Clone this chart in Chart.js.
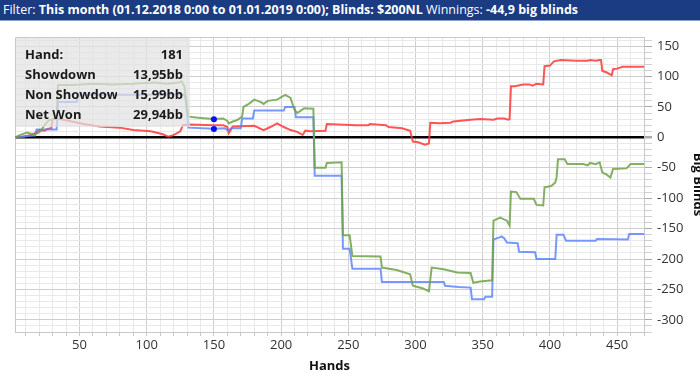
<!DOCTYPE html>
<html lang="en">
<head>
<meta charset="UTF-8">
<title>Winnings graph</title>
<style>
  html, body { margin: 0; padding: 0; background: #fff; width: 700px; height: 379px; overflow: hidden; }
  #filterBar {
    height: 20px; background: #1b3b83; border-bottom: 1px solid #8aa0cc;
    color: #fff; font-family: "Open Sans", sans-serif; font-size: 12px; line-height: 20px;
    white-space: nowrap; padding-left: 3px; overflow: hidden;
  }
  #filterText { display: inline-block; transform-origin: left center; }
  #filterText b { font-weight: bold; }
  #chartBox { width: 712px; height: 358px; }
</style>
<script src="https://cdn.jsdelivr.net/npm/chart.js@4.4.1/dist/chart.umd.min.js"></script>
</head>
<body>
<div id="filterBar"><span id="filterText">Filter: <b>This month (01.12.2018 0:00 to 01.01.2019 0:00); Blinds: $200NL</b> Winnings: <b>-44,9 big blinds</b></span></div>
<div id="chartBox"><canvas id="graph" width="712" height="358"></canvas></div>
<script>
// Net Won (green)
const netWonHands = [2,6,11,15,18,21,24,27,31,33,34,45,60,75,90,105,115,124,126,128,131,140,150,157,160,161,164,167,171,172,176,180,185,187,190,197,203,207,210,212,216,217,224,225,233,234,245,246,251,253,274,275,286,296,298,305,310,312,321,331,341,343,348,357,358,363,368,370,371,375,378,388,390,395,396,401,404,405,406,411,413,425,428,430,434,437,439,442,445,447,457,460,470];
const netWonValues = [0,4,8,5,6,10,20,28,30,31,86,86,88,87,88,90,88,90,92,84,34,32,30,31,27,23,26,28,34,50,55,62,58,55,60,62,70,65,45,40,46,48,47,-50,-50,-42,-41,-161,-161,-195,-196,-214,-218,-225,-244,-248,-253,-214,-217,-222,-223,-239,-237,-235,-137,-132,-137,-145,-89,-90,-101,-101,-111,-112,-82,-80,-74,-65,-36,-36,-44,-44,-46,-42,-44,-41,-58,-61,-66,-52,-51,-44,-44];

// Showdown (blue)
const showdownHands = [2,10,17,18,33,34,48,49,90,126,128,129,131,150,158,160,161,163,170,171,179,180,202,203,210,211,224,225,245,246,251,253,274,275,321,322,332,341,342,351,352,357,358,363,364,366,368,376,377,389,390,404,405,410,412,434,435,458,459,470];
const showdownValues = [0,2,3,13,13,58,58,70,70,71,70,62,16,14,15,12,12,15,15,31,31,44,44,50,50,33,33,-63,-63,-183,-183,-216,-216,-238,-238,-244,-246,-247,-266,-266,-262,-262,-168,-164,-163,-166,-173,-174,-188,-189,-200,-200,-160,-160,-170,-170,-167,-168,-159,-159];

// Non Showdown (red)
const nonShowdownHands = [2,8,14,18,20,24,26,29,30,33,40,53,65,80,90,103,112,116,119,122,125,127,131,150,157,160,161,162,164,180,187,192,197,202,207,212,216,218,222,233,234,256,265,266,278,280,290,296,298,302,307,310,311,318,326,328,341,348,358,361,366,369,370,371,374,380,385,387,390,395,396,400,403,408,420,428,430,434,437,438,439,442,446,447,450,454,470];
const nonShowdownValues = [0,1,4,8,12,11,14,15,30,31,28,22,18,16,12,10,5,1,3,6,10,20,21,20,20,17,7,10,18,19,12,17,23,17,12,9,4,11,10,11,22,20,20,22,20,17,15,11,-7,-8,-12,-10,24,23,24,26,29,30,29,31,31,29,30,84,84,87,87,85,88,87,117,118,125,127,126,126,127,126,127,127,109,107,102,112,113,116,116];

// hover markers
const markerHands = [150, 150];
const markerValues = [29.94, 13.95];

// info box
const infoLabels = ['Hand:', 'Showdown', 'Non Showdown', 'Net Won'];
const infoValues = ['181', '13,95bb', '15,99bb', '29,94bb'];

// squeeze filter text to its width in the original
const ft = document.getElementById('filterText');
ft.style.transform = 'scaleX(' + (575 / ft.getBoundingClientRect().width) + ')';

function toPoints(xs, ys) {
  return xs.map((x, i) => ({ x: x, y: ys[i] }));
}

const FONT = '"Open Sans", "Noto Sans", sans-serif';

const frame = {
  id: 'frame',
  beforeDatasetsDraw(chart) {
    const a = chart.chartArea, ctx = chart.ctx;
    ctx.save();
    ctx.strokeStyle = '#c8c8c8';
    ctx.lineWidth = 1;
    ctx.beginPath();
    ctx.moveTo(a.left + 0.5, a.bottom);
    ctx.lineTo(a.left + 0.5, a.top + 0.5);
    ctx.lineTo(a.right, a.top + 0.5);
    ctx.stroke();
    ctx.restore();
  }
};

const infoBox = {
  id: 'infoBox',
  afterDatasetsDraw(chart) {
    const a = chart.chartArea, ctx = chart.ctx;
    ctx.save();
    ctx.fillStyle = 'rgba(226,226,226,0.72)';
    ctx.fillRect(a.left + 1, a.top + 1, 174, 89);
    ctx.font = 'bold 13px ' + FONT;
    ctx.fillStyle = '#1a1a1a';
    ctx.textBaseline = 'middle';
    infoLabels.forEach((lab, i) => {
      const y = a.top + 18 + i * 20;
      ctx.save();
      ctx.beginPath();
      ctx.rect(a.left, a.top, 102, 90);
      ctx.clip();
      ctx.textAlign = 'left';
      ctx.fillText(lab, a.left + 10, y);
      ctx.restore();
      ctx.textAlign = 'right';
      ctx.fillText(infoValues[i], a.left + 168, y);
    });
    ctx.restore();
  }
};

new Chart(document.getElementById('graph'), {
  type: 'line',
  data: {
    datasets: [
      {
        label: 'marker', data: toPoints(markerHands, markerValues), showLine: false,
        pointRadius: 3, pointBackgroundColor: '#0010ff', pointBorderWidth: 0
      },
      {
        label: 'Net Won', data: toPoints(netWonHands, netWonValues),
        borderColor: 'rgba(112,162,72,0.85)', borderWidth: 2, pointRadius: 0, tension: 0
      },
      {
        label: 'Showdown', data: toPoints(showdownHands, showdownValues),
        borderColor: 'rgba(85,128,255,0.8)', borderWidth: 2, pointRadius: 0, tension: 0
      },
      {
        label: 'Non Showdown', data: toPoints(nonShowdownHands, nonShowdownValues),
        borderColor: 'rgba(255,55,55,0.85)', borderWidth: 2, pointRadius: 0, tension: 0
      }
    ]
  },
  options: {
    responsive: false,
    animation: false,
    layout: { padding: { left: 15, top: 16, right: 0, bottom: 0 } },
    plugins: { legend: { display: false }, tooltip: { enabled: false } },
    scales: {
      x: {
        type: 'linear', min: 2, max: 470,
        afterFit: s => { s.height = 47; },
        ticks: {
          stepSize: 10, includeBounds: false, autoSkip: false, maxRotation: 0, padding: 1,
          color: '#333', font: { family: FONT, size: 13 },
          callback: v => (v % 50 === 0 ? v : '')
        },
        grid: {
          color: c => (c.tick && c.tick.value % 50 === 0 ? '#cfcfcf' : '#e9e9e9'),
          tickLength: 4, tickColor: '#c8c8c8'
        },
        border: { color: '#c8c8c8' },
        title: {
          display: true, text: 'Hands', color: '#111',
          font: { family: FONT, size: 13, weight: 'bold' }, padding: { top: 0, bottom: 5 }
        }
      },
      y: {
        position: 'right', min: -320, max: 165,
        afterFit: s => { s.width = 68; },
        ticks: {
          stepSize: 10, includeBounds: false, autoSkip: false, padding: 5,
          color: '#333', font: { family: FONT, size: 13 },
          callback: v => (v % 50 === 0 ? v : '')
        },
        grid: {
          color: c => (c.tick && c.tick.value === 0 ? '#000' : (c.tick && c.tick.value % 50 === 0 ? '#cfcfcf' : '#e9e9e9')),
          lineWidth: c => (c.tick && c.tick.value === 0 ? 2.5 : 1),
          tickLength: 8,
          tickColor: c => (c.tick && c.tick.value % 50 === 0 ? '#aaa' : '#d0d0d0')
        },
        border: { color: '#c8c8c8' },
        title: {
          display: true, text: 'Big Blinds', color: '#111',
          font: { family: FONT, size: 13, weight: 'bold' }, padding: { top: 6, bottom: 0 }
        }
      }
    }
  },
  plugins: [frame, infoBox]
});
</script>
</body>
</html>
